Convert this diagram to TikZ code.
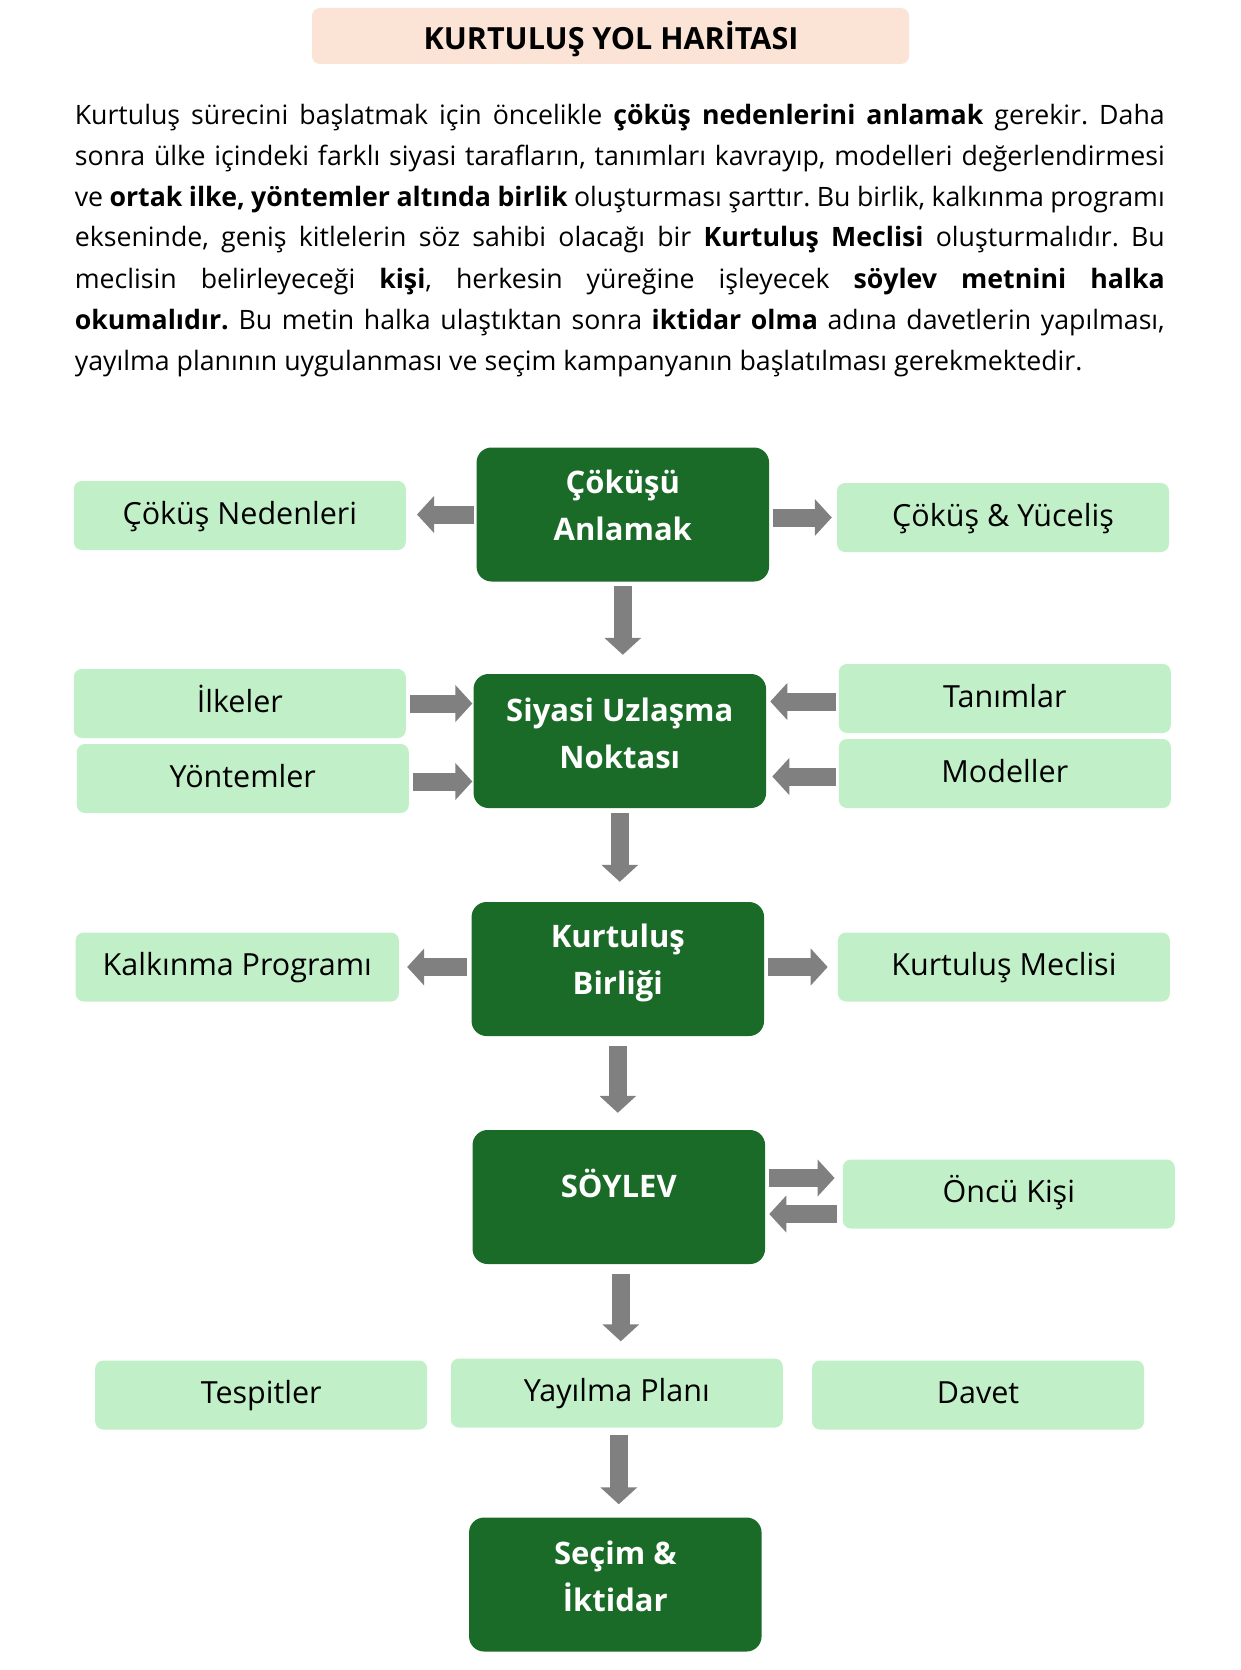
\documentclass[tikz,border=0pt]{standalone}
\usepackage{fontspec}
\setmainfont{Open Sans}
\usetikzlibrary{arrows.meta}
\definecolor{dgreen}{HTML}{1B6B28}
\definecolor{lgreen}{HTML}{C1F0C8}
\definecolor{agray}{HTML}{808080}
\definecolor{peach}{HTML}{FBE3D6}
\newcommand\jline[1]{\hbox to 1090pt{#1}}
\frenchspacing
\begin{document}
\begin{tikzpicture}[x=1pt,y=-1pt,
  darkbox/.style={fill=dgreen, rounded corners=15pt, minimum width=292.5pt, minimum height=134pt, inner sep=0pt},
  darktext/.style={text=white, font=\fontsize{31}{47}\selectfont\bfseries, align=center, inner sep=0pt},
  lightbox/.style={fill=lgreen, rounded corners=8pt, minimum width=332pt, minimum height=69pt, inner sep=0pt, text height=21pt, text depth=4pt, font=\fontsize{30.5}{36}\selectfont},
  blockarrow/.style={draw=agray, line width=18pt, -{Triangle[length=17pt,width=36pt]}},
]
\useasboundingbox (0,0) rectangle (1240,1670);

% title
\node[fill=peach, rounded corners=8pt, minimum width=597pt, minimum height=56pt, inner sep=0pt] (titlebox) at (610.5,36) {};
\node[anchor=base, inner sep=0pt, font=\fontsize{30.5}{34}\selectfont\bfseries] (title) at (611,50) {KURTULUŞ YOL HARİTASI};

% body
\node[anchor=base west, inner sep=0pt, font=\fontsize{26.7}{41}\selectfont] (body) at (74.6,124) {\parbox[t]{1090pt}{\frenchspacing%
\jline{Kurtuluş sürecini başlatmak için öncelikle \textbf{çöküş nedenlerini anlamak} gerekir. Daha}
\jline{sonra ülke içindeki farklı siyasi tarafların, tanımları kavrayıp, modelleri değerlendirmesi}
\jline{ve \textbf{ortak ilke, yöntemler altında birlik} oluşturması şarttır. Bu birlik, kalkınma programı}
\jline{ekseninde, geniş kitlelerin söz sahibi olacağı bir \textbf{Kurtuluş Meclisi} oluşturmalıdır. Bu}
\jline{meclisin belirleyeceği \textbf{kişi}, herkesin yüreğine işleyecek \textbf{söylev metnini halka}}
\jline{\textbf{okumalıdır.} Bu metin halka ulaştıktan sonra \textbf{iktidar olma} adına davetlerin yapılması,}
\hbox{yayılma planının uygulanması ve seçim kampanyanın başlatılması gerekmektedir.}}};

% dark boxes
\node[darkbox] (d1) at (622.8,514.5) {};
\node[darktext, yshift=9pt] (t1) at (d1.center) {Çöküşü\\Anlamak};
\node[darkbox] (d2) at (619.8,741) {};
\node[darktext, yshift=8pt] (t2) at (d2.center) {Siyasi Uzlaşma\\Noktası};
\node[darkbox] (d3) at (617.8,969) {};
\node[darktext, yshift=6pt] (t3) at (d3.center) {Kurtuluş\\Birliği};
\node[darkbox] (d4) at (618.8,1197) {};
\node[darktext, yshift=14pt] (t4) at (d4.center) {SÖYLEV};
\node[darkbox] (d5) at (615.3,1584.5) {};
\node[darktext, yshift=8.5pt] (t5) at (d5.center) {Seçim \&\\İktidar};

% light boxes
\node[lightbox] (ned) at (239.8,515.5) {Çöküş Nedenleri};
\node[lightbox] (yuc) at (1003,517.5) {Çöküş \& Yüceliş};
\node[lightbox] (ilk) at (239.8,703.5) {İlkeler};
\node[lightbox] (yon) at (242.8,778.5) {Yöntemler};
\node[lightbox] (tan) at (1004.8,698.5) {Tanımlar};
\node[lightbox] (mod) at (1004.8,773.5) {Modeller};
\node[lightbox, minimum width=323.3pt] (kal) at (237.3,967) {Kalkınma Programı};
\node[lightbox] (mec) at (1003.9,967) {Kurtuluş Meclisi};
\node[lightbox] (onc) at (1008.8,1194) {Öncü Kişi};
\node[lightbox] (tes) at (261.2,1395) {Tespitler};
\node[lightbox] (yay) at (616.8,1393) {Yayılma Planı};
\node[lightbox] (dav) at (978,1395) {Davet};

% arrows
\draw[blockarrow, shorten <=2pt, shorten >=11pt] (d1.west) -- (d1.west -| ned.east);
\draw[blockarrow, shorten <=4pt, shorten >=5pt] (yuc.west -| d1.east) -- (yuc.west);
\draw[blockarrow, shorten <=4pt, shorten >=19pt] (d1.south) -- (d1.south |- d2.north);
\draw[blockarrow, shorten <=4pt, shorten >=1pt] (ilk.east) -- (ilk.east -| d2.west);
\draw[blockarrow, shorten <=4pt, shorten >=1pt] ([yshift=-3pt]yon.east) -- ([yshift=-3pt]yon.east -| d2.west);
\draw[blockarrow, shorten <=3pt, shorten >=4pt] ([yshift=-3pt]tan.west) -- ([yshift=-3pt]tan.west -| d2.east);
\draw[blockarrow, shorten <=3pt, shorten >=6pt] ([yshift=-3pt]mod.west) -- ([yshift=-3pt]mod.west -| d2.east);
\draw[blockarrow, shorten <=5pt, shorten >=20pt] (d2.south) -- (d2.south |- d3.north);
\draw[blockarrow, shorten <=4pt, shorten >=8pt] (kal.east -| d3.west) -- (kal.east);
\draw[blockarrow, shorten <=4pt, shorten >=10pt] (mec.west -| d3.east) -- (mec.west);
\draw[blockarrow, shorten <=10pt, shorten >=17pt] (d3.south) -- (d3.south |- d4.north);
\draw[blockarrow, shorten <=4pt, shorten >=8pt] ([yshift=16pt]onc.west -| d4.east) -- ([yshift=16pt]onc.west);
\draw[blockarrow, shorten <=6pt, shorten >=4pt] ([yshift=-20pt]onc.west) -- ([yshift=-20pt]onc.west -| d4.east);
\draw[blockarrow, shorten <=10pt, shorten >=17pt] ([xshift=2pt]d4.south) -- ([xshift=2pt]d4.south |- yay.north);
\draw[blockarrow, shorten <=7pt, shorten >=13pt] ([xshift=2pt]yay.south) -- ([xshift=2pt]yay.south |- d5.north);
\end{tikzpicture}
\end{document}
